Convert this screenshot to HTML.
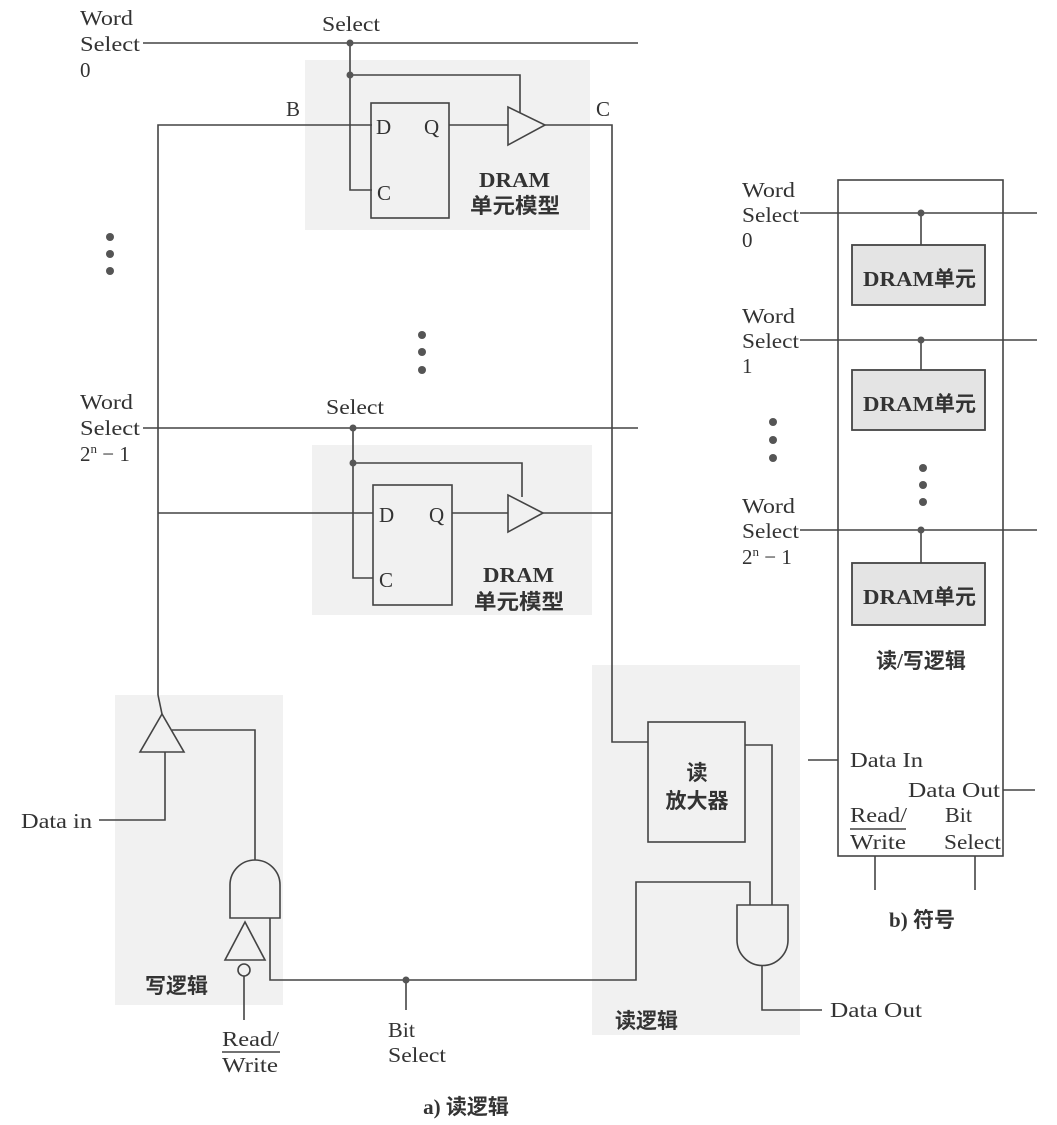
<!DOCTYPE html>
<html><head><meta charset="utf-8"><style>
html,body{margin:0;padding:0;background:#fff;}
svg{display:block;}
text{font-family:"Liberation Serif","Noto Serif CJK SC",serif;fill:#333;font-size:21px;}
.b{font-weight:bold;font-size:21px;}
.cj{font-family:"Liberation Serif","Noto Sans CJK SC",sans-serif;font-weight:bold;font-size:21px;}
</style></head><body>
<svg width="1057" height="1125" viewBox="0 0 1057 1125" xmlns="http://www.w3.org/2000/svg">
<g fill="#f1f1f1">
<rect x="305" y="60" width="285" height="170"/>
<rect x="312" y="445" width="280" height="170"/>
<rect x="115" y="695" width="168" height="310"/>
<rect x="592" y="665" width="208" height="370"/>
</g>
<g stroke="#444" stroke-width="1.6" fill="none">
<line x1="143" y1="43" x2="638" y2="43"/>
<polyline points="350,43 350,190 372,190"/>
<polyline points="350,75 520,75 520,113"/>
<polyline points="158,695 158,125 372,125"/>
<rect x="371" y="103" width="78" height="115"/>
<line x1="449" y1="125" x2="508" y2="125"/>
<polygon points="508,107 508,145 545,125"/>
<polyline points="545,125 612,125 612,742 648,742"/>
<line x1="143" y1="428" x2="638" y2="428"/>
<polyline points="353,428 353,578 373,578"/>
<polyline points="353,463 522,463 522,497"/>
<line x1="158" y1="513" x2="373" y2="513"/>
<rect x="373" y="485" width="79" height="120"/>
<line x1="452" y1="513" x2="508" y2="513"/>
<polygon points="508,495 508,532 543,513"/>
<line x1="543" y1="513" x2="612" y2="513"/>
<polygon points="162,714 140,752 184,752"/>
<line x1="158" y1="695" x2="162" y2="714"/>
<polyline points="172,730 255,730 255,860"/>
<polyline points="165,752 165,820 99,820"/>
<path d="M230,918 L230,885 A25,25 0 0 1 280,885 L280,918 Z"/>
<polygon points="245,922 225,960 265,960"/>
<circle cx="244" cy="970" r="6"/>
<line x1="244" y1="976" x2="244" y2="1020"/>
<polyline points="270,918 270,980 636,980 636,882 750,882 750,905"/>
<line x1="406" y1="980" x2="406" y2="1010"/>
<line x1="222" y1="1052" x2="280" y2="1052"/>
<rect x="648" y="722" width="97" height="120"/>
<polyline points="745,745 772,745 772,905"/>
<path d="M737,905 L788,905 L788,940 A25.5,25.5 0 0 1 737,940 Z"/>
<polyline points="762,966 762,1010 822,1010"/>
<rect x="838" y="180" width="165" height="676"/>
<line x1="800" y1="213" x2="1037" y2="213"/>
<line x1="800" y1="340" x2="1037" y2="340"/>
<line x1="800" y1="530" x2="1037" y2="530"/>
<line x1="921" y1="213" x2="921" y2="245"/>
<line x1="921" y1="340" x2="921" y2="370"/>
<line x1="921" y1="530" x2="921" y2="563"/>
<line x1="808" y1="760" x2="838" y2="760"/>
<line x1="1003" y1="790" x2="1035" y2="790"/>
<line x1="875" y1="856" x2="875" y2="890"/>
<line x1="975" y1="856" x2="975" y2="890"/>
<line x1="850" y1="829" x2="906" y2="829"/>
</g>
<g fill="#e4e4e4" stroke="#444" stroke-width="1.8">
<rect x="852" y="245" width="133" height="60"/>
<rect x="852" y="370" width="133" height="60"/>
<rect x="852" y="563" width="133" height="62"/>
</g>
<g fill="#555">
<circle cx="350" cy="43" r="3.5"/><circle cx="350" cy="75" r="3.5"/>
<circle cx="353" cy="428" r="3.5"/><circle cx="353" cy="463" r="3.5"/>
<circle cx="406" cy="980" r="3.5"/>
<circle cx="921" cy="213" r="3.5"/><circle cx="921" cy="340" r="3.5"/><circle cx="921" cy="530" r="3.5"/>
<circle cx="110" cy="237" r="4"/><circle cx="110" cy="254" r="4"/><circle cx="110" cy="271" r="4"/>
<circle cx="422" cy="335" r="4"/><circle cx="422" cy="352" r="4"/><circle cx="422" cy="370" r="4"/>
<circle cx="773" cy="422" r="4"/><circle cx="773" cy="440" r="4"/><circle cx="773" cy="458" r="4"/>
<circle cx="923" cy="468" r="4"/><circle cx="923" cy="485" r="4"/><circle cx="923" cy="502" r="4"/>
</g>
<text x="80" y="25" textLength="53" lengthAdjust="spacingAndGlyphs">Word</text><text x="80" y="51" textLength="60" lengthAdjust="spacingAndGlyphs">Select</text><text x="80" y="77">0</text>
<text x="322" y="31" textLength="58" lengthAdjust="spacingAndGlyphs">Select</text>
<text x="286" y="116">B</text><text x="596" y="116">C</text>
<text x="376" y="134">D</text><text x="424" y="134">Q</text><text x="377" y="200">C</text>
<text x="479" y="187" class="b" textLength="71" lengthAdjust="spacingAndGlyphs">DRAM</text>
<text x="470" y="213" class="cj" font-size="22" textLength="90" lengthAdjust="spacingAndGlyphs">单元模型</text>
<text x="80" y="409" textLength="53" lengthAdjust="spacingAndGlyphs">Word</text><text x="80" y="435" textLength="60" lengthAdjust="spacingAndGlyphs">Select</text><text x="80" y="461">2<tspan font-size="13" dy="-8">n</tspan><tspan dy="8"> − 1</tspan></text>
<text x="326" y="414" textLength="58" lengthAdjust="spacingAndGlyphs">Select</text>
<text x="379" y="522">D</text><text x="429" y="522">Q</text><text x="379" y="587">C</text>
<text x="483" y="582" class="b" textLength="71" lengthAdjust="spacingAndGlyphs">DRAM</text>
<text x="474" y="609" class="cj" font-size="22" textLength="90" lengthAdjust="spacingAndGlyphs">单元模型</text>
<text x="21" y="828" textLength="71" lengthAdjust="spacingAndGlyphs">Data in</text>
<text x="145" y="993" class="cj">写逻辑</text>
<text x="222" y="1046" textLength="57" lengthAdjust="spacingAndGlyphs">Read/</text><text x="222" y="1072" textLength="56" lengthAdjust="spacingAndGlyphs">Write</text>
<text x="388" y="1037" textLength="27" lengthAdjust="spacingAndGlyphs">Bit</text><text x="388" y="1062" textLength="58" lengthAdjust="spacingAndGlyphs">Select</text>
<text x="697" y="780" text-anchor="middle" class="cj">读</text>
<text x="697" y="808" text-anchor="middle" class="cj">放大器</text>
<text x="615" y="1028" class="cj">读逻辑</text>
<text x="830" y="1017" textLength="92" lengthAdjust="spacingAndGlyphs">Data Out</text>
<text x="466" y="1114" text-anchor="middle" class="cj" font-size="19">a) 读逻辑</text>
<text x="742" y="197" textLength="53" lengthAdjust="spacingAndGlyphs">Word</text><text x="742" y="222" textLength="57" lengthAdjust="spacingAndGlyphs">Select</text><text x="742" y="247">0</text>
<text x="742" y="323" textLength="53" lengthAdjust="spacingAndGlyphs">Word</text><text x="742" y="348" textLength="57" lengthAdjust="spacingAndGlyphs">Select</text><text x="742" y="373">1</text>
<text x="742" y="513" textLength="53" lengthAdjust="spacingAndGlyphs">Word</text><text x="742" y="538" textLength="57" lengthAdjust="spacingAndGlyphs">Select</text><text x="742" y="564">2<tspan font-size="13" dy="-8">n</tspan><tspan dy="8"> − 1</tspan></text>
<text x="863" y="286" class="b" textLength="71" lengthAdjust="spacingAndGlyphs">DRAM</text><text x="934" y="286" class="cj" font-size="22">单元</text>
<text x="863" y="411" class="b" textLength="71" lengthAdjust="spacingAndGlyphs">DRAM</text><text x="934" y="411" class="cj" font-size="22">单元</text>
<text x="863" y="604" class="b" textLength="71" lengthAdjust="spacingAndGlyphs">DRAM</text><text x="934" y="604" class="cj" font-size="22">单元</text>
<text x="921" y="668" text-anchor="middle" class="cj">读/写逻辑</text>
<text x="850" y="767" textLength="73" lengthAdjust="spacingAndGlyphs">Data In</text>
<text x="908" y="797" textLength="92" lengthAdjust="spacingAndGlyphs">Data Out</text>
<text x="850" y="822" textLength="57" lengthAdjust="spacingAndGlyphs">Read/</text><text x="850" y="849" textLength="56" lengthAdjust="spacingAndGlyphs">Write</text>
<text x="945" y="822" textLength="27" lengthAdjust="spacingAndGlyphs">Bit</text><text x="944" y="849" textLength="57" lengthAdjust="spacingAndGlyphs">Select</text>
<text x="922" y="927" text-anchor="middle" class="cj" font-size="19">b) 符号</text>
</svg>
</body></html>
